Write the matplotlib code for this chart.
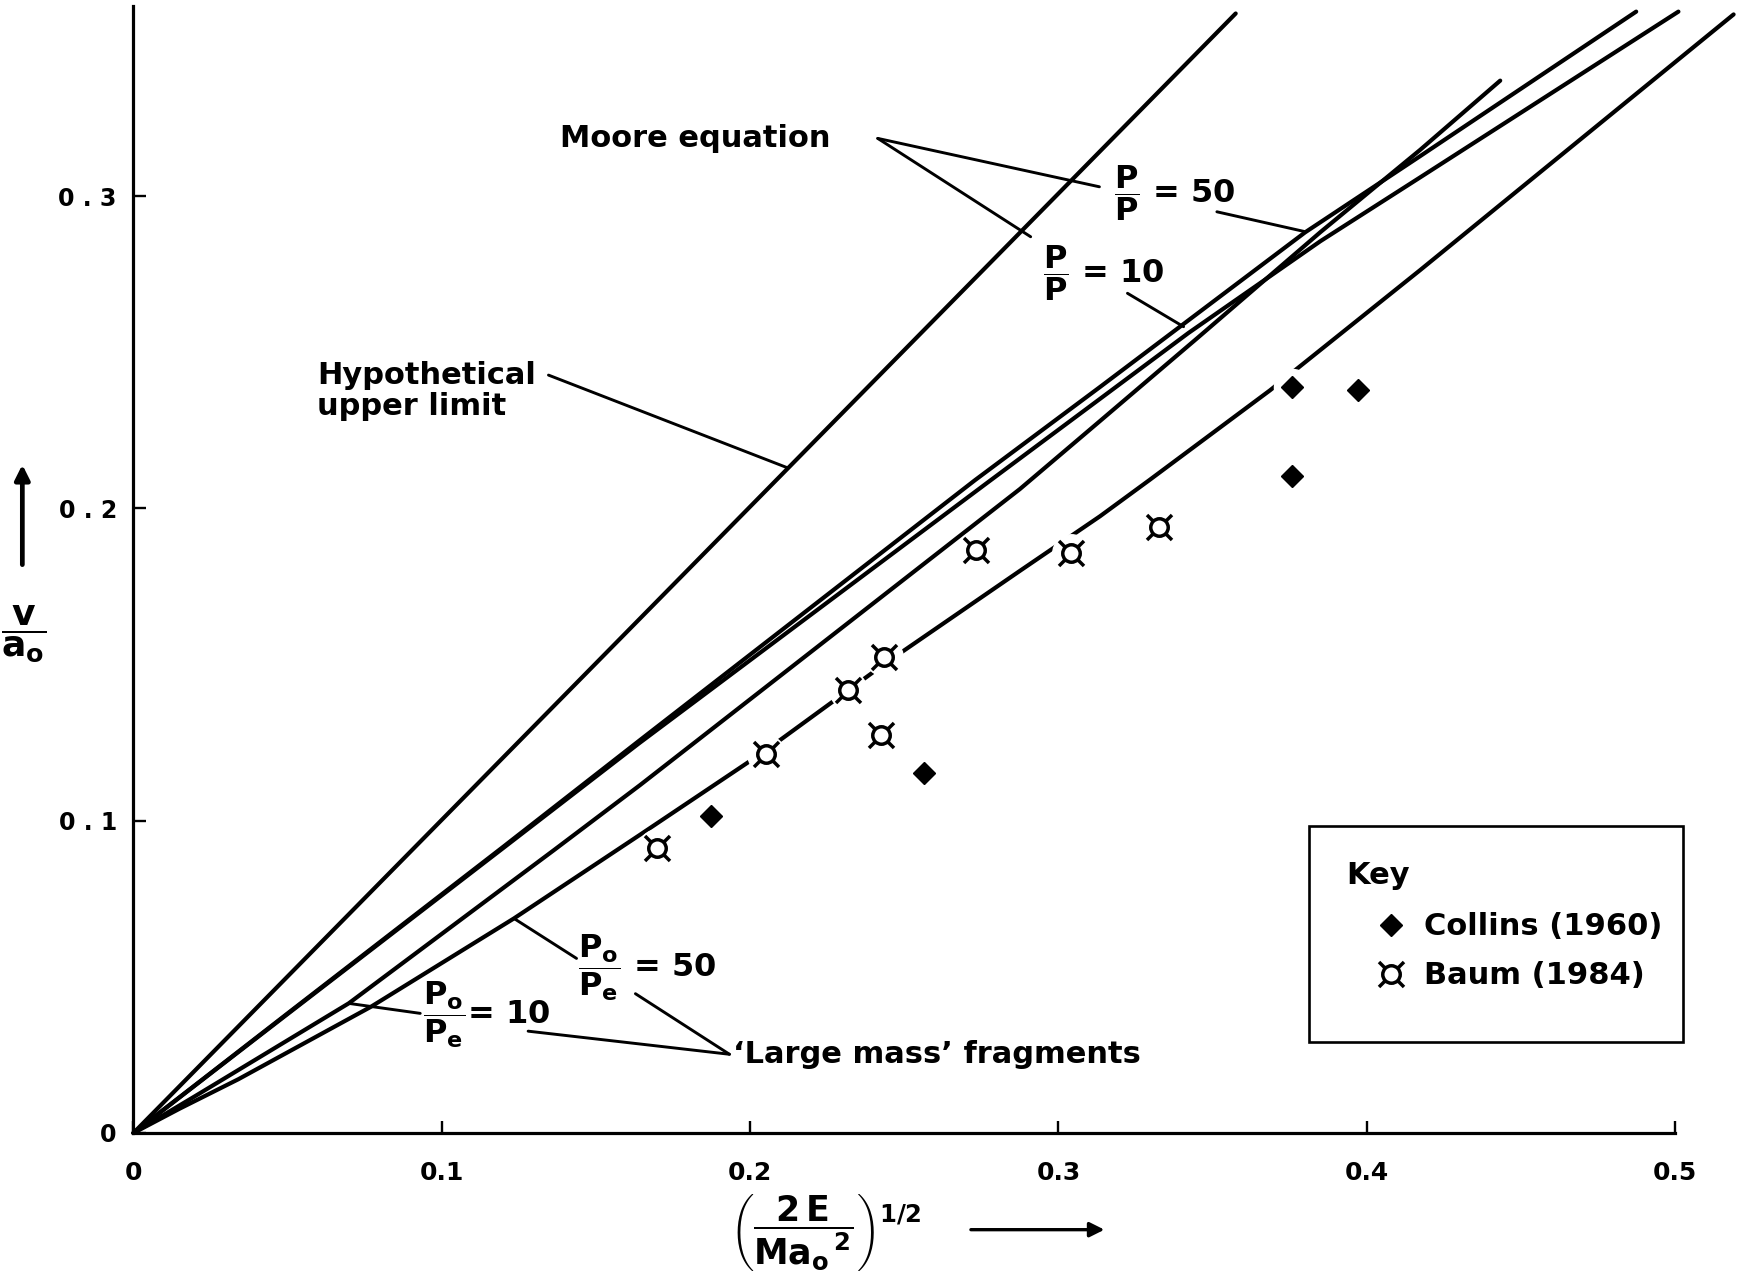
import numpy as np
import matplotlib
matplotlib.use("Agg")
import matplotlib.pyplot as plt
from matplotlib.path import Path
from matplotlib.patches import Rectangle

plt.rcParams['font.family'] = ['DejaVu Sans']
plt.rcParams['mathtext.fontset'] = 'custom'
plt.rcParams['mathtext.rm'] = 'DejaVu Sans:bold'
plt.rcParams['mathtext.it'] = 'DejaVu Sans:bold'
plt.rcParams['mathtext.bf'] = 'DejaVu Sans:bold'

# ---------------- data ----------------
upper_x = [0.0, 0.3575]
upper_y = [0.0, 0.3585]

moore50_x = [0.0, 0.05, 0.12, 0.164, 0.273, 0.3135, 0.38, 0.4173, 0.4874]
moore50_y = [0.0, 0.0383, 0.0917, 0.1256, 0.2091, 0.2389, 0.2884, 0.3128, 0.3591]

moore10_x = [0.0, 0.05, 0.12, 0.164, 0.2773, 0.3135, 0.3422, 0.385, 0.4173, 0.5011]
moore10_y = [0.0, 0.0381, 0.0913, 0.1248, 0.2085, 0.2351, 0.2562, 0.2856, 0.3060, 0.3591]

large10_x = [0.0, 0.02, 0.0698, 0.1364, 0.1643, 0.2875, 0.3135, 0.345, 0.385, 0.4173, 0.4433]
large10_y = [0.0, 0.0118, 0.0415, 0.0906, 0.1114, 0.2062, 0.2280, 0.2545, 0.2885, 0.3148, 0.3370]

large50_x = [0.0, 0.015, 0.034, 0.077, 0.1234, 0.1643, 0.2051, 0.2433, 0.2875, 0.3135, 0.3294,
             0.3686, 0.4173, 0.519]
large50_y = [0.0, 0.0078, 0.0172, 0.0404, 0.0687, 0.0955, 0.1225, 0.1500, 0.1800, 0.1975, 0.2090,
             0.2378, 0.2763, 0.3582]

collins_x = [0.1874, 0.2563, 0.3758, 0.3971, 0.3758]
collins_y = [0.1015, 0.1154, 0.2390, 0.2380, 0.2105]

baum_x = [0.1697, 0.2051, 0.2318, 0.2433, 0.2426, 0.2733, 0.3040, 0.3325]
baum_y = [0.0912, 0.1215, 0.1418, 0.1525, 0.1275, 0.1867, 0.1856, 0.1942]

xticks = [0.0, 0.1, 0.2, 0.3, 0.4, 0.5]
xtick_labels = ['0', '0.1', '0.2', '0.3', '0.4', '0.5']
yticks = [0.0, 0.1, 0.2, 0.3]
ytick_labels = ['0', '0 . 1', '0 . 2', '0 . 3']

# ---------------- figure ----------------
fig = plt.figure(figsize=(17.45, 12.76), dpi=100)
ax = fig.add_axes([0.0765, 0.1121, 0.8834, 0.8832])
ax.set_xlim(0, 0.5)
ax.set_ylim(0, 0.3609)

for s in ['top', 'right']:
    ax.spines[s].set_visible(False)
for s in ['left', 'bottom']:
    ax.spines[s].set_linewidth(2.3)

ax.set_xticks(xticks)
ax.set_xticklabels(xtick_labels, fontsize=18, fontweight='bold')
ax.set_yticks(yticks)
ax.set_yticklabels(ytick_labels, fontsize=17, fontweight='bold')
ax.tick_params(axis='both', direction='in', length=9, width=1.7)
ax.tick_params(axis='x', pad=20)
ax.tick_params(axis='y', pad=12)

LW = 3.0
for xs, ys in [(upper_x, upper_y), (moore50_x, moore50_y), (moore10_x, moore10_y),
               (large10_x, large10_y), (large50_x, large50_y)]:
    ax.plot(xs, ys, color='black', lw=LW, solid_capstyle='round',
            solid_joinstyle='round', clip_on=False, zorder=2)

# white halos break the lines around the data symbols
ax.plot(baum_x, baum_y, 'o', ms=27, color='white', ls='none', zorder=3)
ax.plot(collins_x, collins_y, 'o', ms=26, color='white', ls='none', zorder=3)

# Baum marker: ring with four diagonal spikes
circ = Path.circle((0, 0), 0.42)
sv, sc = [], []
for ang in [45, 135, 225, 315]:
    a = np.deg2rad(ang)
    sv += [(0.42 * np.cos(a), 0.42 * np.sin(a)), (0.85 * np.cos(a), 0.85 * np.sin(a))]
    sc += [Path.MOVETO, Path.LINETO]
baum_marker = Path.make_compound_path(circ, Path(sv, sc))

h_col, = ax.plot(collins_x, collins_y, 'D', ms=11, color='black', ls='none',
                 zorder=4, label='Collins (1960)')
h_baum, = ax.plot(baum_x, baum_y, marker=baum_marker, ms=18, mfc='none', mec='black',
                  mew=2.5, ls='none', zorder=4, label='Baum (1984)')

# ---------------- annotations ----------------
TFS = 22
FFS = 23
LLW = 2.1
bold = dict(fontweight='bold')
ax.text(0.1383, 0.3186, 'Moore equation', fontsize=TFS, ha='left', va='center', **bold)
ax.text(0.0595, 0.2376, 'Hypothetical\nupper limit', fontsize=TFS, ha='left',
        va='center', linespacing=1.1, **bold)
ax.text(0.318, 0.3009, r'$\dfrac{\mathrm{P}}{\mathrm{P}}$ = 50', fontsize=FFS,
        ha='left', va='center', **bold)
ax.text(0.295, 0.2753, r'$\dfrac{\mathrm{P}}{\mathrm{P}}$ = 10', fontsize=FFS,
        ha='left', va='center', **bold)
ax.text(0.1442, 0.0528, r'$\dfrac{\mathrm{P_o}}{\mathrm{P_e}}$ = 50', fontsize=FFS,
        ha='left', va='center', **bold)
ax.text(0.0939, 0.0378, r'$\dfrac{\mathrm{P_o}}{\mathrm{P_e}}$= 10', fontsize=FFS,
        ha='left', va='center', **bold)
ax.text(0.1945, 0.0250, '\u2018Large mass\u2019 fragments', fontsize=TFS,
        ha='left', va='center', **bold)

leaders = [
    ((0.1346, 0.2427), (0.2119, 0.2131)),
    ((0.2414, 0.3185), (0.3133, 0.3030)),
    ((0.2414, 0.3185), (0.2910, 0.2870)),
    ((0.3514, 0.2950), (0.3797, 0.2887)),
    ((0.3224, 0.2689), (0.3406, 0.2582)),
    ((0.1437, 0.0559), (0.1234, 0.0687)),
    ((0.0930, 0.0383), (0.0698, 0.0415)),
    ((0.1933, 0.0252), (0.1628, 0.0446)),
    ((0.1933, 0.0252), (0.1280, 0.0326)),
]
for (x0, y0), (x1, y1) in leaders:
    ax.plot([x0, x1], [y0, y1], color='black', lw=LLW, solid_capstyle='round', zorder=2)

# axis labels
ax.set_xlabel(r'$\left(\dfrac{2\,\mathrm{E}}{\mathrm{Ma_o}^{\,2}}\right)^{1/2}$',
              fontsize=25, va='center', fontweight='bold')
ax.xaxis.set_label_coords(0.449, -0.0887)
ax.annotate('', xy=(0.6345, 0.0363), xytext=(0.5548, 0.0363),
            xycoords='figure fraction', textcoords='figure fraction',
            arrowprops=dict(arrowstyle='-|>', lw=2.4, color='black', mutation_scale=22))

fig.text(0.0135, 0.503, r'$\dfrac{\mathrm{v}}{\mathrm{a_o}}$', fontsize=26,
         ha='center', va='center', fontweight='bold')
ax.annotate('', xy=(0.0128, 0.638), xytext=(0.0128, 0.5553),
            xycoords='figure fraction', textcoords='figure fraction',
            arrowprops=dict(arrowstyle='-|>', lw=3.4, color='black', mutation_scale=22))

# legend (key)
fig.patches.append(Rectangle((0.74997, 0.18370), 0.21427, 0.16920, transform=fig.transFigure,
                             fill=False, edgecolor='black', lw=1.9))
fig.text(0.7716, 0.3136, 'Key', fontsize=22, ha='left', va='center', fontweight='bold')
ax.legend(handles=[h_col, h_baum], loc='upper left', bbox_to_anchor=(0.7884, 0.2850),
          bbox_transform=fig.transFigure, frameon=False,
          prop={'size': 22, 'weight': 'bold'}, borderpad=0,
          borderaxespad=0, handlelength=1.0, handletextpad=0.59, labelspacing=0.65)

fig.savefig('out.png', dpi=100, facecolor='white')
